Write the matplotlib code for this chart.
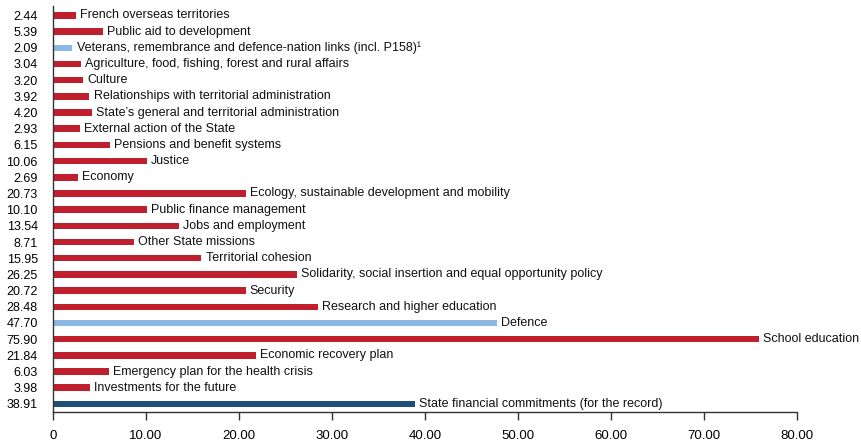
import matplotlib
matplotlib.use("Agg")
import matplotlib.pyplot as plt

categories = [
    "French overseas territories",
    "Public aid to development",
    "Veterans, remembrance and defence-nation links (incl. P158)¹",
    "Agriculture, food, fishing, forest and rural affairs",
    "Culture",
    "Relationships with territorial administration",
    "State’s general and territorial administration",
    "External action of the State",
    "Pensions and benefit systems",
    "Justice",
    "Economy",
    "Ecology, sustainable development and mobility",
    "Public finance management",
    "Jobs and employment",
    "Other State missions",
    "Territorial cohesion",
    "Solidarity, social insertion and equal opportunity policy",
    "Security",
    "Research and higher education",
    "Defence",
    "School education",
    "Economic recovery plan",
    "Emergency plan for the health crisis",
    "Investments for the future",
    "State financial commitments (for the record)",
]
values = [2.44, 5.39, 2.09, 3.04, 3.20, 3.92, 4.20, 2.93, 6.15, 10.06, 2.69,
          20.73, 10.10, 13.54, 8.71, 15.95, 26.25, 20.72, 28.48, 47.70, 75.90,
          21.84, 6.03, 3.98, 38.91]
groups = ["r", "r", "l", "r", "r", "r", "r", "r", "r", "r", "r",
          "r", "r", "r", "r", "r", "r", "r", "r", "l", "r",
          "r", "r", "r", "d"]
x_ticks = [0, 10, 20, 30, 40, 50, 60, 70, 80]
x_tick_labels = ["0", "10.00", "20.00", "30.00", "40.00", "50.00", "60.00", "70.00", "80.00"]

palette = {"r": "#C0202E", "l": "#8DB8E4", "d": "#1F4E79"}

plt.rcParams['font.family'] = ['Liberation Sans', 'DejaVu Sans']
fig = plt.figure(figsize=(8.62, 4.42), dpi=100)
ax = fig.add_axes([53/862, 1 - 412/442, (797 - 53)/862, (412 - 6)/442])

ypos = list(range(len(values)))
ax.barh(ypos, values, height=0.4, color=[palette[g] for g in groups])
for y, v, c in zip(ypos, values, categories):
    ax.annotate(c, (v, y), xytext=(3, 0), textcoords="offset points",
                va="center", ha="left", fontsize=9, color="#111111")

ax.set_xlim(0, 80)
ax.set_ylim(24.5, -0.58)
ax.set_yticks(ypos)
ax.set_yticklabels([f"{v:.2f}" for v in values], fontsize=9)
ax.tick_params(axis="y", length=0, pad=11)
ax.set_xticks(x_ticks)
ax.set_xticklabels(x_tick_labels, fontsize=9.5)
ax.tick_params(axis="x", length=5.5, width=1, pad=7.5, color="#333333")
for s in ["top", "right"]:
    ax.spines[s].set_visible(False)
for s in ["left", "bottom"]:
    ax.spines[s].set_color("#333333")
    ax.spines[s].set_linewidth(1)

fig.savefig("out.png", dpi=100)
